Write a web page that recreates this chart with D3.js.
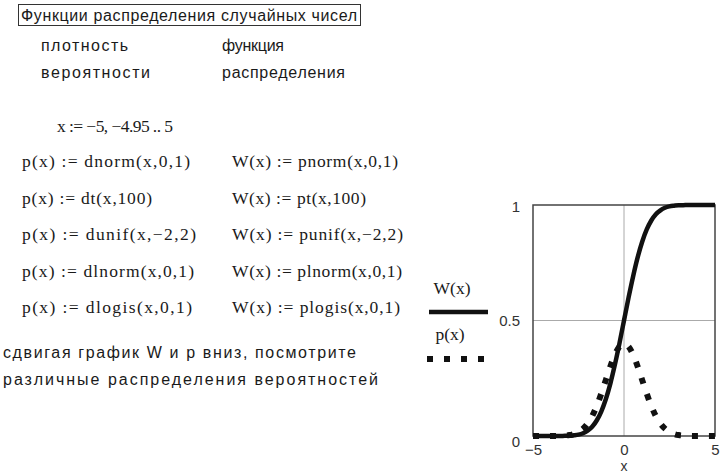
<!DOCTYPE html>
<html><head><meta charset="utf-8">
<script src="https://cdn.jsdelivr.net/npm/d3@7"></script>
<style>body{margin:0;background:#fff}svg{display:block}</style>
</head><body><svg id="c" width="720" height="475"></svg>
<script>
// x grid (step 0.25)
const xValues = [-5,-4.75,-4.5,-4.25,-4,-3.75,-3.5,-3.25,-3,-2.75,-2.5,-2.25,-2,-1.75,-1.5,-1.25,-1,-0.75,-0.5,-0.25,0,0.25,0.5,0.75,1,1.25,1.5,1.75,2,2.25,2.5,2.75,3,3.25,3.5,3.75,4,4.25,4.5,4.75,5];
// W(x) = pnorm(x,0,1)
const wValues = [0,0,0,0,0,0,0,0.001,0.001,0.003,0.006,0.012,0.023,0.040,0.067,0.106,0.159,0.227,0.309,0.401,0.5,0.599,0.691,0.773,0.841,0.894,0.933,0.960,0.977,0.988,0.994,0.997,0.999,0.999,1,1,1,1,1,1,1];
// p(x) = dnorm(x,0,1)
const pValues = [0,0,0,0,0,0,0.001,0.002,0.004,0.009,0.018,0.032,0.054,0.086,0.130,0.183,0.242,0.301,0.352,0.387,0.399,0.387,0.352,0.301,0.242,0.183,0.130,0.086,0.054,0.032,0.018,0.009,0.004,0.002,0.001,0,0,0,0,0,0];
const yTicks = [0, 0.5, 1];
const yTickLabels = ["0", "0.5", "1"];
const xTicks = [-5, 0, 5];
const xTickLabels = ["\u22125", "0", "5"];
const legendLabels = ["W(x)", "p(x)"];

const titleText = "Функции распределения случайных чисел";
const headLeft = ["плотность", "вероятности"];
const headRight = ["функция", "распределения"];
const rangeText = "x := \u22125, \u22124.95 .. 5";
const leftFormulas = ["p(x) := dnorm(x,0,1)", "p(x) := dt(x,100)", "p(x) := dunif(x,\u22122,2)", "p(x) := dlnorm(x,0,1)", "p(x) := dlogis(x,0,1)"];
const rightFormulas = ["W(x) := pnorm(x,0,1)", "W(x) := pt(x,100)", "W(x) := punif(x,\u22122,2)", "W(x) := plnorm(x,0,1)", "W(x) := plogis(x,0,1)"];
const leftWidths = [168, 130, 174, 172, 170];
const rightWidths = [166, 134, 171, 170, 168];
const noteLines = ["сдвигая график W и р вниз, посмотрите", "различные распределения вероятностей"];

const svg = d3.select("#c");
const SANS = "'Liberation Sans', Arial, sans-serif";
const SERIF = "'Liberation Serif', 'Times New Roman', serif";
const ink = "#1a1a1a";

// Title box
svg.append("rect").attr("x", 18.5).attr("y", 4.5).attr("width", 342).attr("height", 21)
  .attr("fill", "none").attr("stroke", "#333").attr("stroke-width", 1);
svg.append("text").attr("x", 21).attr("y", 20.5).attr("font-family", SANS).attr("font-size", 16)
  .attr("fill", ink).attr("textLength", 336).attr("lengthAdjust", "spacing").text(titleText);

headLeft.forEach((t, i) => svg.append("text").attr("x", 41).attr("y", 51 + i * 27)
  .attr("font-family", SANS).attr("font-size", 16).attr("fill", ink)
  .attr("textLength", i ? 109 : 87).attr("lengthAdjust", "spacing").text(t));
headRight.forEach((t, i) => svg.append("text").attr("x", 222).attr("y", 51 + i * 27)
  .attr("font-family", SANS).attr("font-size", 16).attr("fill", ink)
  .attr("textLength", i ? 123 : 62).attr("lengthAdjust", "spacing").text(t));

svg.append("text").attr("x", 57).attr("y", 132).attr("font-family", SERIF).attr("font-size", 17.5)
  .attr("fill", ink).attr("textLength", 116).attr("lengthAdjust", "spacing").text(rangeText);

leftFormulas.forEach((t, i) => svg.append("text").attr("x", 22).attr("y", 167 + i * 36.5)
  .attr("font-family", SERIF).attr("font-size", 17.5).attr("fill", ink)
  .attr("textLength", leftWidths[i]).attr("lengthAdjust", "spacing").text(t));
rightFormulas.forEach((t, i) => svg.append("text").attr("x", 232).attr("y", 167 + i * 36.5)
  .attr("font-family", SERIF).attr("font-size", 17.5).attr("fill", ink)
  .attr("textLength", rightWidths[i]).attr("lengthAdjust", "spacing").text(t));

noteLines.forEach((t, i) => svg.append("text").attr("x", 3).attr("y", 358 + i * 27)
  .attr("font-family", SANS).attr("font-size", 16).attr("fill", ink)
  .attr("textLength", i ? 375 : 353).attr("lengthAdjust", "spacing").text(t));

// Plot
const x = d3.scaleLinear().domain([-5, 5]).range([533, 715]);
const y = d3.scaleLinear().domain([0, 1]).range([436, 205]);

// grid lines (x = 0, y = 0.5)
svg.append("line").attr("x1", x(0)).attr("x2", x(0)).attr("y1", y(0)).attr("y2", y(1))
  .attr("stroke", "#aaa").attr("stroke-width", 1);
svg.append("line").attr("x1", x(-5)).attr("x2", x(5)).attr("y1", y(0.5)).attr("y2", y(0.5))
  .attr("stroke", "#aaa").attr("stroke-width", 1);

// frame
svg.append("rect").attr("x", x(-5)).attr("y", y(1)).attr("width", x(5) - x(-5)).attr("height", y(0) - y(1))
  .attr("fill", "none").attr("stroke", "#444").attr("stroke-width", 1.5);

const line = d3.line().curve(d3.curveMonotoneX);
const wPts = xValues.map((v, i) => [x(v), y(wValues[i])]);
const pPts = xValues.map((v, i) => [x(v), y(pValues[i])]);

svg.append("path").attr("d", line(wPts)).attr("fill", "none").attr("stroke", "#111")
  .attr("stroke-width", 4.5);
svg.append("path").attr("d", line(pPts)).attr("fill", "none").attr("stroke", "#111")
  .attr("stroke-width", 6).attr("stroke-dasharray", "6,11");

// axes tick labels
const yAxis = d3.axisLeft(y).tickValues(yTicks).tickSize(0).tickPadding(13)
  .tickFormat((d, i) => yTickLabels[i]);
const gy = svg.append("g").attr("transform", `translate(${x(-5)},0)`).call(yAxis);
gy.select(".domain").remove();
gy.selectAll("text").attr("font-family", SANS).attr("font-size", 15).attr("fill", "#333");
gy.selectAll(".tick").filter(d => d === 0).select("text").attr("dy", "0.7em");
gy.selectAll(".tick").filter(d => d === 1).select("text").attr("dy", "0.4em");

const xAxis = d3.axisBottom(x).tickValues(xTicks).tickSize(0).tickPadding(8)
  .tickFormat((d, i) => xTickLabels[i]);
const gx = svg.append("g").attr("transform", `translate(0,${y(0)})`).call(xAxis);
gx.select(".domain").remove();
gx.selectAll("text").attr("font-family", SANS).attr("font-size", 15).attr("fill", "#333");

svg.append("text").attr("x", x(0)).attr("y", 471).attr("text-anchor", "middle")
  .attr("font-family", SANS).attr("font-size", 14).attr("fill", "#333").text("x");

// legend
svg.append("text").attr("x", 452).attr("y", 294).attr("text-anchor", "middle")
  .attr("font-family", SERIF).attr("font-size", 17.5).attr("fill", ink).text(legendLabels[0]);
svg.append("line").attr("x1", 429).attr("x2", 488).attr("y1", 312).attr("y2", 312)
  .attr("stroke", "#111").attr("stroke-width", 4.5);
svg.append("text").attr("x", 450).attr("y", 340).attr("text-anchor", "middle")
  .attr("font-family", SERIF).attr("font-size", 17.5).attr("fill", ink).text(legendLabels[1]);
svg.append("line").attr("x1", 427).attr("x2", 488).attr("y1", 359).attr("y2", 359)
  .attr("stroke", "#111").attr("stroke-width", 6).attr("stroke-dasharray", "6,11");
</script></body></html>
